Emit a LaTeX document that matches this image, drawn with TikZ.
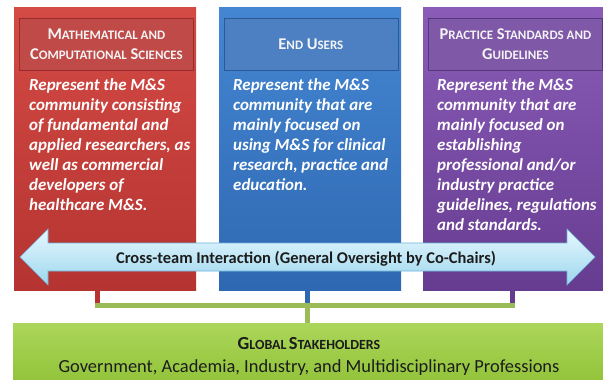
\documentclass[tikz,border=0pt]{standalone}
\usepackage{fontspec}
\setmainfont{Carlito}
\usetikzlibrary{calc}

% panel colours
\definecolor{redtop}{HTML}{D44A44}
\definecolor{redbot}{HTML}{B53431}
\definecolor{redhdr}{HTML}{BF4A48}
\definecolor{redhdrline}{HTML}{982C2A}
\definecolor{bluetop}{HTML}{4486D2}
\definecolor{bluebot}{HTML}{2F68B2}
\definecolor{bluehdr}{HTML}{4D80C2}
\definecolor{bluehdrline}{HTML}{2A5A96}
\definecolor{purptop}{HTML}{8A5CB8}
\definecolor{purpbot}{HTML}{663C90}
\definecolor{purphdr}{HTML}{7F58A8}
\definecolor{purphdrline}{HTML}{573680}
\definecolor{greentop}{HTML}{ABD65A}
\definecolor{greenbot}{HTML}{8DC034}
\definecolor{linkgreen}{HTML}{9BBB59}
\definecolor{arrowtop}{HTML}{E6F8FE}
\definecolor{arrowbot}{HTML}{9DD6EE}
\definecolor{arrowline}{HTML}{6DB4D8}
\definecolor{hdrtext}{HTML}{F4F4F4}
\definecolor{darktext}{HTML}{1C1C1C}

% small caps built from two sizes
\newcommand{\hcap}[2]{{\fontsize{16.5}{20}\selectfont#1}{\fontsize{13}{20}\selectfont#2}}
\newcommand{\gcap}[2]{{\fontsize{18.5}{20}\selectfont#1}{\fontsize{14}{20}\selectfont#2}}

\tikzset{
  panel/.style={minimum width=182bp, minimum height=283bp, inner sep=0pt,
    anchor=north west, draw=none},
  hdr/.style={minimum width=174bp, minimum height=52bp, inner sep=0pt,
    anchor=north west, line width=0.8bp, text=hdrtext, align=center,
    font=\fontsize{16.5}{20}\selectfont\bfseries},
  body/.style={anchor=base west, inner sep=0pt, align=left, text=white,
    font=\fontsize{17}{20}\selectfont\bfseries\itshape},
  stub/.style={line width=5bp},
  link/.style={line width=5bp, draw=linkgreen},
}

\begin{document}
\begin{tikzpicture}[x=1bp,y=-1bp]
\useasboundingbox (0,0) rectangle (603,379);
\clip (0,0) rectangle (603,379);
\fill[white] (0,0) rectangle (603,379);

% three team panels
\node[panel, top color=redtop, bottom color=redbot] (mcs) at (14,7) {};
\node[panel, top color=bluetop, bottom color=bluebot] (eu) at (219,7) {};
\node[panel, top color=purptop, bottom color=purpbot] (psg) at (423,7) {};

% panel headings
\node[hdr, fill=redhdr, draw=redhdrline] (mcsh) at (19,18)
  {\hcap{M}{ATHEMATICAL AND}\\\hcap{C}{OMPUTATIONAL} \hcap{S}{CIENCES}};
\node[hdr, fill=bluehdr, draw=bluehdrline] (euh) at (223.5,18)
  {\hcap{E}{ND} \hcap{U}{SERS}};
\node[hdr, fill=purphdr, draw=purphdrline] (psgh) at (428,18)
  {\hcap{P}{RACTICE} \hcap{S}{TANDARDS AND}\\\hcap{G}{UIDELINES}};

% panel descriptions (anchored on the baseline of their last line)
\node[body] (mcsb) at (29,210)
  {Represent the M\&S\\community consisting\\of fundamental and\\applied researchers, as\\well as commercial\\developers of\\healthcare M\&S.};
\node[body] (eub) at (233,190)
  {Represent the M\&S\\community that are\\mainly focused on\\using M\&S for clinical\\research, practice and\\education.};
\node[body] (psgb) at (437,230)
  {Represent the M\&S\\community that are\\mainly focused on\\establishing\\professional and/or\\industry practice\\guidelines, regulations\\and standards.};

% cross-team double arrow
\draw[top color=arrowtop, bottom color=arrowbot, draw=arrowline, line width=0.6bp]
  (20,257) -- (48,229) -- (48,243) -- (567,243) -- (567,229) -- (595,257)
  -- (567,285) -- (567,271) -- (48,271) -- (48,285) -- cycle;
\node[anchor=base, inner sep=0pt, text=darktext,
  font=\fontsize{16.5}{18}\selectfont\bfseries] (xteam) at (306,263)
  {Cross-team Interaction (General Oversight by Co-Chairs)};

% stakeholder bar
\node[panel, minimum width=600bp, minimum height=70bp,
  top color=greentop, bottom color=greenbot] (gs) at (13,323) {};
\node[anchor=base, inner sep=0pt, text=darktext, font=\bfseries] (gst) at (309,349)
  {\gcap{G}{LOBAL} \gcap{S}{TAKEHOLDERS}};
\node[anchor=base, inner sep=0pt, text=darktext,
  font=\fontsize{18.5}{20}\selectfont] (gss) at (309,372)
  {Government, Academia, Industry, and Multidisciplinary Professions};

% links from each panel to the stakeholder bar
\coordinate (jr) at (97,305);
\coordinate (je) at (307,305);
\coordinate (jp) at (512,305);
\draw[stub, draw=redbot] (mcs.south -| jr) -- ($(jr)+(0,2)$);
\draw[stub, draw=bluebot] (eu.south -| je) -- (je);
\draw[stub, draw=purpbot] (psg.south -| jp) -- ($(jp)+(0,2)$);
\draw[link] ($(jr)+(-2.5,0)$) -- ($(jp)+(2.5,0)$);
\draw[link] (je) -- (gs.north -| je);
\end{tikzpicture}
\end{document}
